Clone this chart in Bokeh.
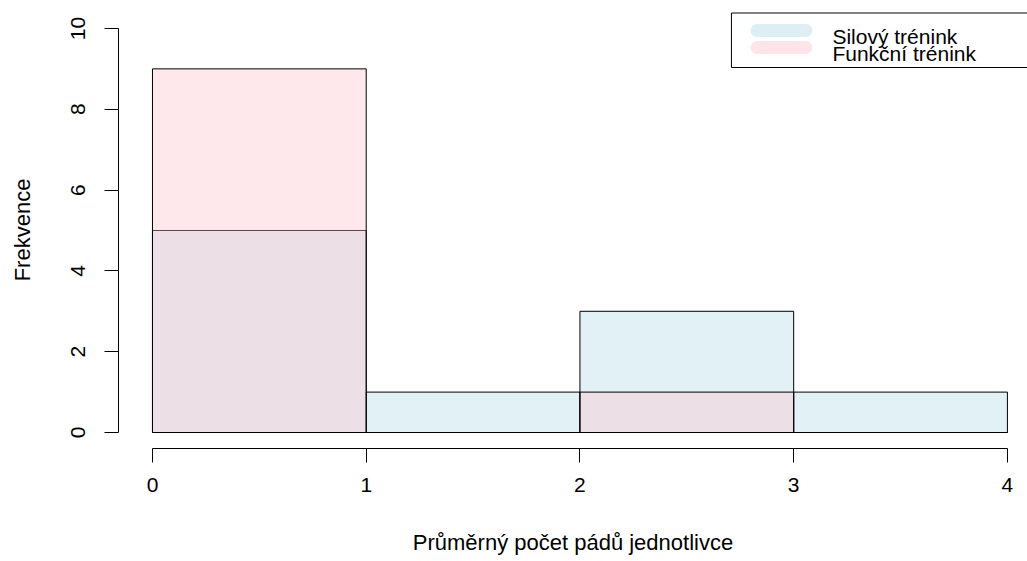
from bokeh.plotting import figure
from bokeh.models import FixedTicker, Range1d
from bokeh.core.properties import value
from bokeh.embed import file_html
from bokeh.resources import INLINE

# ---- data ----
bin_left = [0, 1, 2, 3]
bin_right = [1, 2, 3, 4]
silovy = [5, 1, 3, 1]      # Silový trénink
funkcni = [9, 0, 1, 0]     # Funkční trénink
series_names = ["Silový trénink", "Funkční trénink"]
x_ticks = [0, 1, 2, 3, 4]
y_ticks = [0, 2, 4, 6, 8, 10]
x_title = "Průměrný počet pádů jednotlivce"
y_title = "Frekvence"

FONT = "Liberation Sans"
BLUE = "lightblue"
PINK = "pink"
ALPHA = 0.37

XS, XE = -0.159, 4.094
YS, YE = -0.396, 10.42
PX_X, PX_Y = 213.75, 40.4

p = figure(width=1027, height=561, output_backend="svg", toolbar_location=None,
           x_range=Range1d(XS, XE), y_range=Range1d(YS, YE),
           min_border_left=118, min_border_right=0, min_border_top=11,
           min_border_bottom=113)
p.outline_line_color = None
p.background_fill_color = "white"
p.border_fill_color = "white"
p.grid.visible = False

# bars
p.quad(left=bin_left, right=bin_right, bottom=0, top=silovy,
       fill_color=BLUE, fill_alpha=ALPHA, line_color="black", line_width=1)
p.quad(left=bin_left, right=bin_right, bottom=0, top=funkcni,
       fill_color=PINK, fill_alpha=ALPHA, line_color="black", line_width=1)

# axes
xa = p.xaxis[0]
xa.ticker = FixedTicker(ticks=x_ticks)
xa.bounds = (0, 4)
xa.axis_label = x_title
xa.axis_label_standoff = 35
ya = p.yaxis[0]
ya.ticker = FixedTicker(ticks=y_ticks)
ya.bounds = (0, 10)
ya.major_label_orientation = "vertical"
ya.axis_label = y_title
ya.axis_label_standoff = 34
for ax in (xa, ya):
    ax.axis_line_color = "black"
    ax.major_tick_line_color = "black"
    ax.major_tick_in = 0
    ax.major_tick_out = 14
    ax.minor_tick_line_color = None
    ax.major_label_text_font = FONT
    ax.major_label_text_font_size = "21px"
    ax.major_label_text_color = "black"
    ax.axis_label_text_font = FONT
    ax.axis_label_text_font_size = "22px"
    ax.axis_label_text_font_style = "normal"
    ax.axis_label_text_color = "black"
xa.major_label_standoff = 15
ya.major_label_standoff = 19

# helpers: image pixel -> data (for legend placement only)
def X(px):
    return XS + (px - 118) / PX_X

def Y(py):
    return YE - (py - 11) / PX_Y

# legend (R style, top-right)
p.quad(left=[X(731)], right=[X(1060)], top=[Y(12.5)], bottom=[Y(67)],
       fill_color="white", line_color="black", line_width=1)
p.segment(x0=[X(756.5)] * 2, x1=[X(805.5)] * 2, y0=[Y(30), Y(47)], y1=[Y(30), Y(47)],
          line_color=[BLUE, PINK], line_alpha=ALPHA + 0.05, line_width=13, line_cap="round")
p.text(x=[X(832)] * 2, y=[Y(36), Y(53)], text=series_names,
       text_font=value(FONT), text_font_size="21px", text_color="black",
       text_baseline="alphabetic", text_align="left")

open("out.html", "w").write(file_html(p, INLINE))
